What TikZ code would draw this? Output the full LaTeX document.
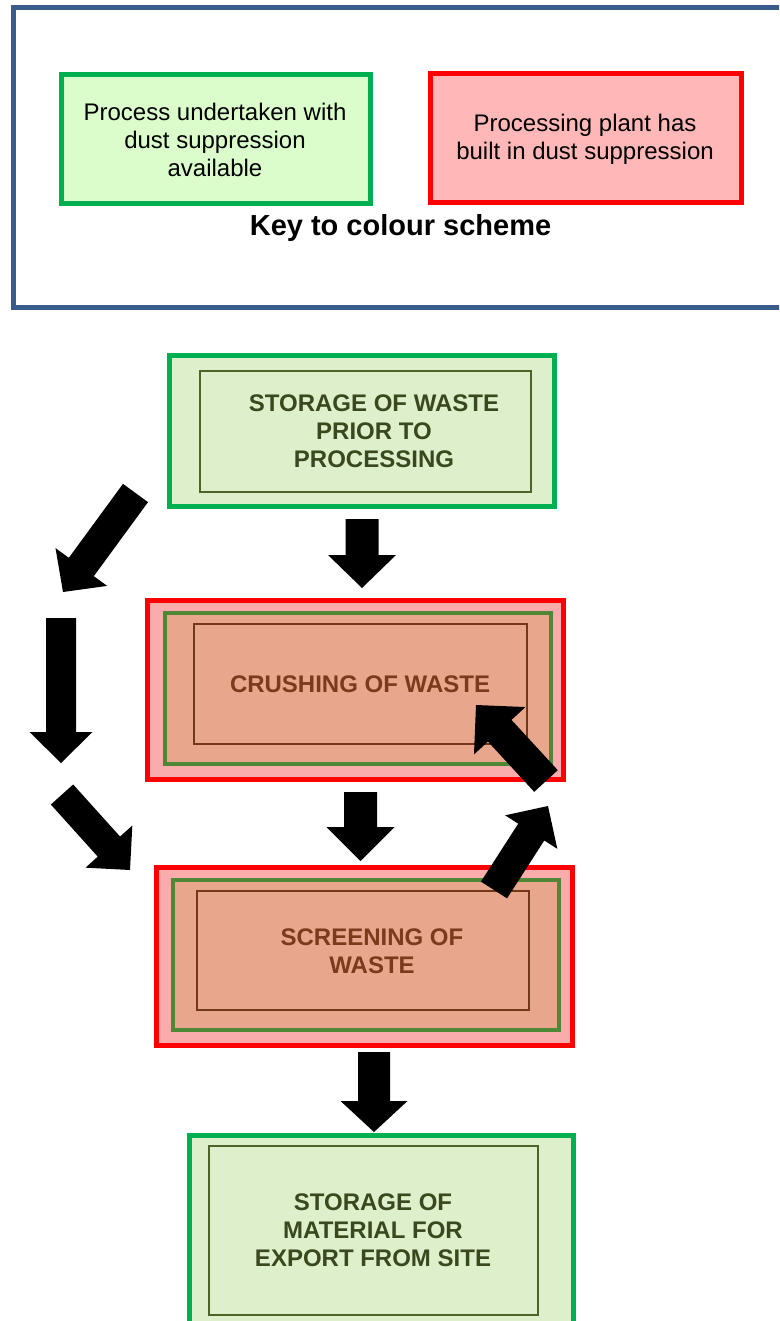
\documentclass[tikz,border=0pt]{standalone}
\usepackage{fontspec}
\setmainfont{Liberation Sans}
\usetikzlibrary{calc}
\definecolor{keyblue}{RGB}{58,92,138}
\definecolor{brightgreen}{RGB}{0,176,80}
\definecolor{brightred}{RGB}{255,0,0}
\definecolor{keygreenfill}{RGB}{219,253,203}
\definecolor{keypinkfill}{RGB}{255,183,183}
\definecolor{boxgreenfill}{RGB}{222,240,203}
\definecolor{oliveline}{RGB}{79,98,40}
\definecolor{olivetext}{RGB}{58,72,30}
\definecolor{pinkband}{RGB}{250,172,172}
\definecolor{salmonfill}{RGB}{232,167,140}
\definecolor{darkgreenline}{RGB}{79,135,55}
\definecolor{brownline}{RGB}{115,55,25}
\definecolor{browntext}{RGB}{122,58,27}
\newcommand{\blockarrow}[5]{%
  \coordinate (ba-h) at ($(#2)!#5!(#1)$);
  \fill[arrowfill] ($(#1)!#3!90:(#2)$) -- ($(ba-h)!#3!90:(#2)$) -- ($(ba-h)!#4!90:(#2)$) -- (#2)
    -- ($(ba-h)!#4!-90:(#2)$) -- ($(ba-h)!#3!-90:(#2)$) -- ($(#1)!#3!-90:(#2)$) -- cycle;}
\begin{document}
\begin{tikzpicture}[x=1pt,y=-1pt,
  box/.style={rectangle,inner sep=0pt,outer sep=0pt},
  keyframe/.style={box,draw=keyblue,line width=5pt},
  keygreen/.style={box,draw=brightgreen,fill=keygreenfill,line width=5pt},
  keypink/.style={box,draw=brightred,fill=keypinkfill,line width=5pt},
  greenouter/.style={box,draw=brightgreen,fill=boxgreenfill,line width=5pt},
  oliveinner/.style={box,draw=oliveline,line width=1.8pt},
  redouter/.style={box,draw=brightred,fill=pinkband,line width=5pt},
  greenband/.style={box,draw=darkgreenline,fill=salmonfill,line width=4.5pt},
  browninner/.style={box,draw=brownline,line width=1.6pt},
  keytext/.style={font=\fontsize{24}{28}\selectfont,align=center,inner sep=0pt},
  keytitle/.style={font=\fontsize{29}{33}\selectfont\bfseries,inner sep=0pt},
  olivelabel/.style={font=\fontsize{24}{28}\selectfont\bfseries,align=center,text=olivetext,inner sep=0pt},
  brownlabel/.style={font=\fontsize{24}{28}\selectfont\bfseries,align=center,text=browntext,inner sep=0pt},
  arrowfill/.style={fill=black}]
\useasboundingbox (0,0) rectangle (779,1321);
\clip (0,0) rectangle (779,1321);
\fill[white] (0,0) rectangle (779,1321);

% key
\node[keyframe,minimum width=785pt,minimum height=300.5pt] (keyframe) at (406,157.5) {};
\node[keygreen,minimum width=309pt,minimum height=128.5pt] (keyg) at (216,139) {};
\node[keytext] (keygt) at (215,140) {Process undertaken with\\dust suppression\\available};
\node[keypink,minimum width=311pt,minimum height=129pt] (keyp) at (586,137.8) {};
\node[keytext] (keypt) at (585,139.5) {Processing plant has\\built in dust suppression};
\node[keytitle,anchor=base] (keytitle) at (400.5,235.5) {Key to colour scheme};

% box 1
\node[greenouter,minimum width=385pt,minimum height=151pt] (b1) at (362,431) {};
\node[oliveinner,minimum width=331pt,minimum height=121pt] (b1i) at (365.5,431.5) {};
\node[olivelabel] (b1t) at (374,431) {STORAGE OF WASTE\\PRIOR TO\\PROCESSING};

% box 2
\node[redouter,minimum width=416pt,minimum height=179pt] (b2) at (355.5,690) {};
\node[greenband,minimum width=386pt,minimum height=151pt] (b2g) at (358,688.5) {};
\node[browninner,minimum width=333pt,minimum height=120pt] (b2i) at (360.5,684) {};
\node[brownlabel] (b2t) at (360,684) {CRUSHING OF WASTE};

% box 3
\node[redouter,minimum width=416pt,minimum height=178pt] (b3) at (364.5,956.5) {};
\node[greenband,minimum width=386pt,minimum height=150pt] (b3g) at (366,955) {};
\node[browninner,minimum width=332pt,minimum height=119pt] (b3i) at (363,950.5) {};
\node[brownlabel] (b3t) at (372,951) {SCREENING OF\\WASTE};

% box 4
\node[greenouter,minimum width=384pt,minimum height=210pt] (b4) at (381.5,1240.5) {};
\node[oliveinner,minimum width=329pt,minimum height=169pt] (b4i) at (373.5,1230.5) {};
\node[olivelabel] (b4t) at (373,1230.5) {STORAGE OF\\MATERIAL FOR\\EXPORT FROM SITE};

% arrow end points
\coordinate (a1s) at (362,519);   \coordinate (a1e) at (362,588);
\coordinate (a2s) at (360.5,792); \coordinate (a2e) at (360.5,861);
\coordinate (a3s) at (374,1052);  \coordinate (a3e) at (374,1132);
\coordinate (aAs) at (135.5,493); \coordinate (aAe) at (63,592);
\coordinate (aBs) at (61,618);    \coordinate (aBe) at (61,763);
\coordinate (aCs) at (62,794.5);  \coordinate (aCe) at (130,870);
\coordinate (aDs) at (494,890);   \coordinate (aDe) at (548,806);
\coordinate (aEs) at (546,781);   \coordinate (aEe) at (476,705);

\blockarrow{a1s}{a1e}{16.5pt}{34pt}{33pt}
\blockarrow{a2s}{a2e}{16.5pt}{34pt}{34pt}
\blockarrow{a3s}{a3e}{16pt}{33.5pt}{31pt}
\blockarrow{aAs}{aAe}{15.5pt}{32pt}{31pt}
\blockarrow{aBs}{aBe}{15pt}{31.5pt}{31pt}
\blockarrow{aCs}{aCe}{15pt}{31.5pt}{31.5pt}
\blockarrow{aDs}{aDe}{15.5pt}{31pt}{31pt}
\blockarrow{aEs}{aEe}{16pt}{35pt}{35pt}
\end{tikzpicture}
\end{document}
